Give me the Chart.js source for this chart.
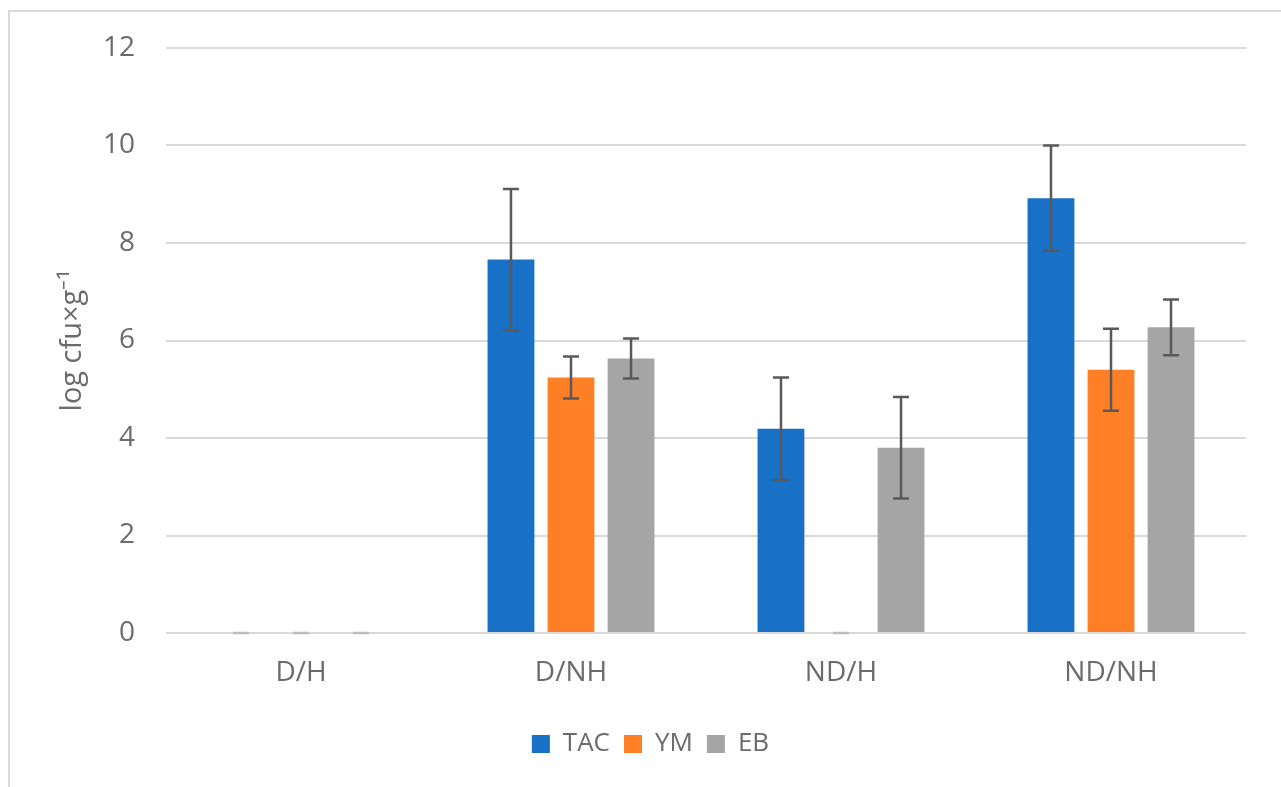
<!DOCTYPE html>
<html>
<head>
<meta charset="utf-8">
<script src="https://cdn.jsdelivr.net/npm/chart.js@4.4.1/dist/chart.umd.min.js"></script>
<style>
  html, body { margin: 0; padding: 0; overflow: hidden; background: #fff; }
  #frame { position: absolute; left: 8px; top: 10px; width: 1400px; height: 900px; border: 2px solid #d9d9d9; }
  #chart { position: absolute; left: 0; top: 0; }
</style>
</head>
<body>
<div id="frame"></div>
<canvas id="chart" width="1281" height="787"></canvas>
<script>
const categories = ['D/H', 'D/NH', 'ND/H', 'ND/NH'];
const tacValues = [0, 7.66, 4.19, 8.92];
const tacErrors = [0, 1.45, 1.05, 1.08];
const ymValues = [0, 5.24, 0, 5.40];
const ymErrors = [0, 0.43, 0, 0.84];
const ebValues = [0, 5.63, 3.80, 6.27];
const ebErrors = [0, 0.41, 1.04, 0.57];
const yTicks = [0, 2, 4, 6, 8, 10, 12];

const fontFamily = "'Open Sans', sans-serif";
const textColor = '#6b6b6b';

// draws the error bars on top of each bar
const errorBars = {
    id: 'errorBars',
    afterDatasetsDraw(chart) {
        const ctx = chart.ctx;
        const yScale = chart.scales.y;
        ctx.save();
        ctx.lineWidth = 2.5;
        chart.data.datasets.forEach((ds, i) => {
            const meta = chart.getDatasetMeta(i);
            meta.data.forEach((bar, j) => {
                const v = ds.data[j];
                const e = ds.errors[j];
                const top = yScale.getPixelForValue(v + e);
                const bottom = yScale.getPixelForValue(v - e);
                const half = 8;
                // empty bars only show a faint cap on the axis
                ctx.strokeStyle = e === 0 ? '#bdbdbd' : '#595959';
                ctx.beginPath();
                ctx.moveTo(bar.x, top);
                ctx.lineTo(bar.x, bottom);
                ctx.moveTo(bar.x - half, top);
                ctx.lineTo(bar.x + half, top);
                ctx.moveTo(bar.x - half, bottom);
                ctx.lineTo(bar.x + half, bottom);
                ctx.stroke();
            });
        });
        ctx.restore();
    }
};

new Chart(document.querySelector('#chart').getContext('2d'), {
    type: 'bar',
    data: {
        labels: categories,
        datasets: [
            { label: 'TAC', data: tacValues, errors: tacErrors, backgroundColor: '#1870c7' },
            { label: 'YM', data: ymValues, errors: ymErrors, backgroundColor: '#ff7f27' },
            { label: 'EB', data: ebValues, errors: ebErrors, backgroundColor: '#a5a5a5' }
        ]
    },
    options: {
        responsive: false,
        animation: false,
        categoryPercentage: 0.667,
        barPercentage: 0.78,
        layout: { padding: { top: 48, left: 55, right: 35, bottom: 20 } },
        plugins: {
            legend: {
                position: 'bottom',
                labels: {
                    boxWidth: 18,
                    boxHeight: 18,
                    padding: 14,
                    color: textColor,
                    font: { family: fontFamily, size: 26 }
                }
            },
            tooltip: { enabled: false }
        },
        scales: {
            x: {
                grid: { display: false },
                border: { display: false },
                ticks: { color: textColor, padding: 15, font: { family: fontFamily, size: 28 } },
                afterFit(scale) { scale.height = 84; }
            },
            y: {
                min: 0,
                max: 12,
                afterBuildTicks(scale) { scale.ticks = yTicks.map(v => ({ value: v })); },
                grid: { color: '#d9d9d9', lineWidth: 2, drawTicks: false },
                border: { display: false },
                ticks: { color: textColor, padding: 31, font: { family: fontFamily, size: 28 } },
                title: {
                    display: true,
                    text: 'log cfu×g⁻¹',
                    color: textColor,
                    font: { family: fontFamily, size: 29 },
                    padding: { top: 0 }
                },
                afterFit(scale) { scale.width = 111; }
            }
        }
    },
    plugins: [errorBars]
});
</script>
</body>
</html>
